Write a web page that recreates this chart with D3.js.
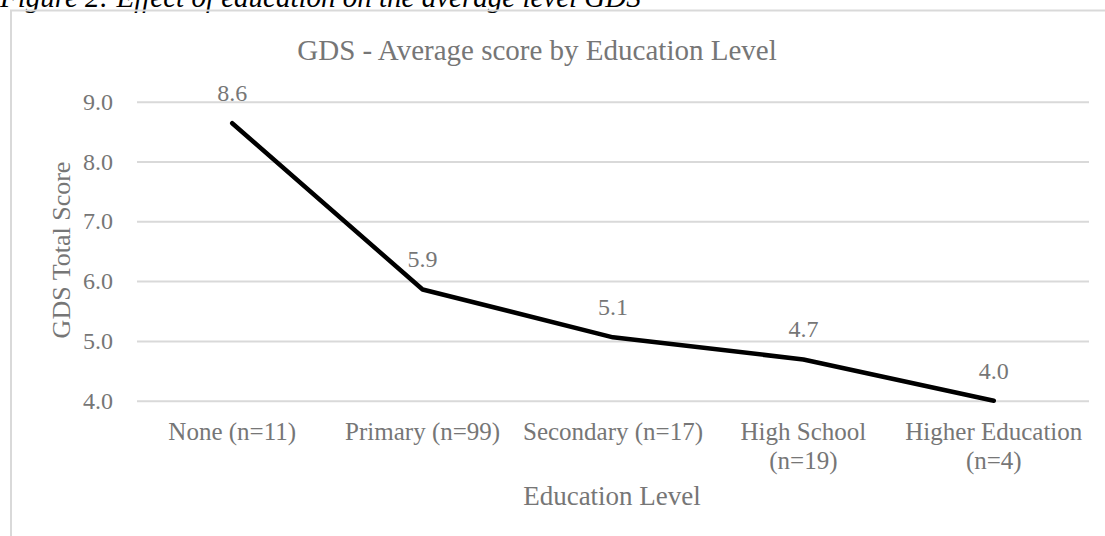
<!DOCTYPE html>
<html>
<head>
<meta charset="utf-8">
<script src="https://cdn.jsdelivr.net/npm/d3@7/dist/d3.min.js"></script>
<style>
  html, body { margin: 0; padding: 0; background: #fff; }
  svg { display: block; }
</style>
</head>
<body>
<div id="chart"></div>
<script>
/* GDS average score by education level — single line chart */
const categories = ['None (n=11)', 'Primary (n=99)', 'Secondary (n=17)', 'High School (n=19)', 'Higher Education (n=4)'];
const gdsScores  = [8.64, 5.86, 5.06, 4.69, 4.0];
const dataLabels = ['8.6', '5.9', '5.1', '4.7', '4.0'];
const yTicks     = [4, 5, 6, 7, 8, 9];

const W = 1105, H = 536;
const FONT = '"Liberation Serif", "Times New Roman", serif';
const TXT = '#767676';

const svg = d3.select('#chart').append('svg').attr('width', W).attr('height', H);

/* caption above the chart frame (cut at top like the source) */
svg.append('text')
  .attr('x', 0).attr('y', 7)
  .style('font-family', FONT).style('font-style', 'italic').style('font-size', '29px')
  .style('fill', '#000')
  .text('Figure 2: Effect of education on the average level GDS');

/* chart frame */
svg.append('rect')
  .attr('x', 11).attr('y', 10.5).attr('width', W + 20).attr('height', H + 20)
  .attr('fill', 'none').attr('stroke', '#d9d9d9').attr('stroke-width', 2);

const plot = { left: 137, right: 1089, top: 101.7, bottom: 400.7 };

const x = d3.scaleBand().domain(categories).range([plot.left, plot.right]);
const y = d3.scaleLinear().domain([4, 9]).range([plot.bottom, plot.top]);
const cx = d => x(d) + x.bandwidth() / 2;

/* gridlines + y tick labels */
const yAxis = svg.append('g').attr('transform', `translate(${plot.left},0)`)
  .call(d3.axisLeft(y).tickValues(yTicks).tickFormat(d3.format('.1f'))
    .tickSize(-(plot.right - plot.left)).tickPadding(24));
yAxis.select('.domain').remove();
yAxis.selectAll('line').attr('stroke', '#d9d9d9').attr('stroke-width', 2);
yAxis.selectAll('text')
  .style('font-family', FONT).style('font-size', '24px').style('fill', TXT);

/* x category labels (wrapped when wider than the band) */
const xAxis = svg.append('g').attr('transform', `translate(0,${plot.bottom})`)
  .call(d3.axisBottom(x).tickSize(0).tickPadding(0));
xAxis.select('.domain').remove();
xAxis.selectAll('text').each(function(d) {
  const t = d3.select(this).text(null).attr('y', 0).attr('dy', null)
    .style('font-family', FONT).style('font-size', '25px').style('fill', TXT);
  const probe = t.append('tspan').text(d);
  const fits = probe.node().getComputedTextLength() <= x.bandwidth() * 0.97;
  probe.remove();
  const lines = fits ? [d] : [d.slice(0, d.lastIndexOf(' (')), d.slice(d.lastIndexOf(' (') + 1)];
  lines.forEach((ln, i) => t.append('tspan').attr('x', 0).attr('y', 39 + i * 29).text(ln));
});

/* the line */
const line = d3.line().x((d, i) => cx(categories[i])).y(d => y(d));
svg.append('path').datum(gdsScores)
  .attr('d', line)
  .attr('fill', 'none').attr('stroke', '#000').attr('stroke-width', 4.5)
  .attr('stroke-linecap', 'round').attr('stroke-linejoin', 'round');

/* data labels */
svg.append('g').selectAll('text').data(gdsScores).join('text')
  .attr('x', (d, i) => cx(categories[i])).attr('y', d => y(d) - 22)
  .attr('text-anchor', 'middle')
  .style('font-family', FONT).style('font-size', '24px').style('fill', TXT)
  .text((d, i) => dataLabels[i]);

/* titles */
svg.append('text')
  .attr('x', 537).attr('y', 60).attr('text-anchor', 'middle')
  .style('font-family', FONT).style('font-size', '29px').style('fill', TXT)
  .text('GDS - Average score by Education Level');

svg.append('text')
  .attr('x', (plot.left + plot.right) / 2 - 1).attr('y', 505).attr('text-anchor', 'middle')
  .style('font-family', FONT).style('font-size', '27px').style('fill', TXT)
  .text('Education Level');

svg.append('text')
  .attr('transform', 'translate(70,250) rotate(-90)').attr('text-anchor', 'middle')
  .style('font-family', FONT).style('font-size', '26px').style('fill', TXT)
  .text('GDS Total Score');
</script>
</body>
</html>
